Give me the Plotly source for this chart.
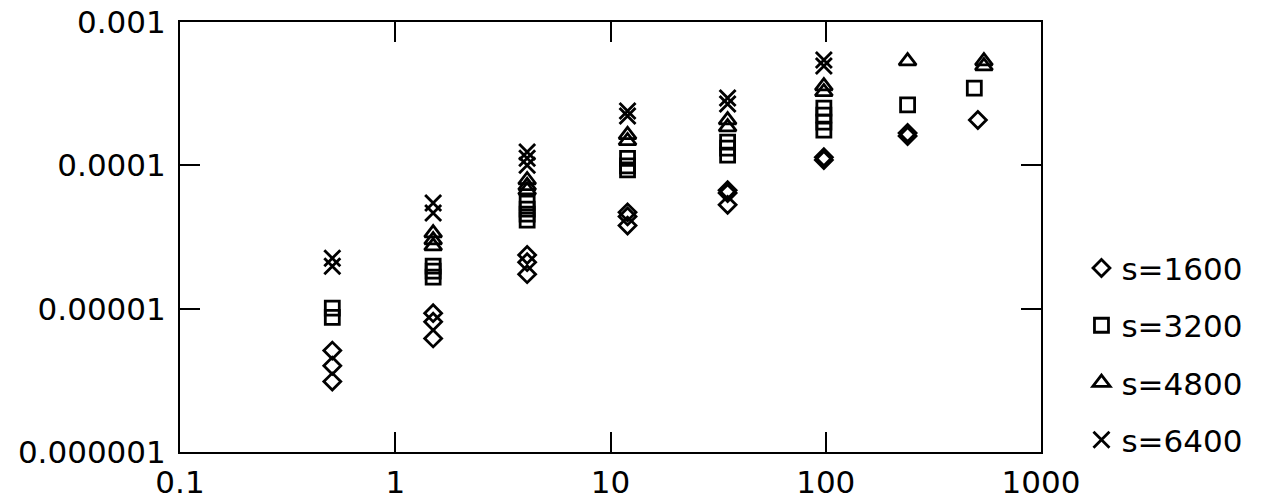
import plotly.graph_objects as go

# ---- data ----
x_1600 = [0.51, 0.51, 0.51, 1.5, 1.5, 1.5, 4.1, 4.1, 4.1, 12, 12, 12, 35, 35, 35, 98, 98, 240, 240, 509]
y_1600 = [5.1e-6, 4.0e-6, 3.1e-6, 9.3e-6, 8.1e-6, 6.2e-6, 2.37e-5, 2.11e-5, 1.74e-5,
          4.7e-5, 4.4e-5, 3.8e-5, 6.7e-5, 6.4e-5, 5.3e-5, 1.14e-4, 1.09e-4, 1.68e-4, 1.60e-4, 2.07e-4]

x_3200 = [0.51, 0.51, 1.5, 1.5, 1.5, 4.1, 4.1, 4.1, 4.1, 12, 12, 12, 35, 35, 35, 98, 98, 98, 98, 240, 490]
y_3200 = [1.01e-5, 8.7e-6, 1.98e-5, 1.83e-5, 1.66e-5, 5.46e-5, 4.95e-5, 4.57e-5, 4.15e-5,
          1.12e-4, 9.9e-5, 9.3e-5, 1.45e-4, 1.32e-4, 1.18e-4, 2.51e-4, 2.24e-4, 2.0e-4, 1.76e-4, 2.64e-4, 3.46e-4]

x_4800 = [1.5, 1.5, 1.5, 4.1, 4.1, 4.1, 12, 12, 35, 35, 98, 98, 240, 543, 543]
y_4800 = [3.37e-5, 3.01e-5, 2.73e-5, 7.9e-5, 7.2e-5, 6.7e-5, 1.63e-4, 1.48e-4,
          2.07e-4, 1.85e-4, 3.57e-4, 3.25e-4, 5.34e-4, 5.34e-4, 4.93e-4]

x_6400 = [0.51, 0.51, 1.5, 1.5, 4.1, 4.1, 4.1, 12, 12, 35, 35, 98, 98]
y_6400 = [2.25e-5, 1.98e-5, 5.46e-5, 4.65e-5, 1.24e-4, 1.12e-4, 1.0e-4,
          2.39e-4, 2.21e-4, 2.95e-4, 2.68e-4, 5.43e-4, 4.93e-4]

x_tickvals = [0.1, 1, 10, 100, 1000]
x_ticktext = ["0.1", "1", "10", "100", "1000"]
y_tickvals = [1e-6, 1e-5, 1e-4, 1e-3]
y_ticktext = ["0.000001", "0.00001", "0.0001", "0.001"]

series = [
    ("s=1600", x_1600, y_1600, "diamond-open", 13),
    ("s=3200", x_3200, y_3200, "square-open", 14),
    ("s=4800", x_4800, y_4800, "triangle-up-open", 15),
    ("s=6400", x_6400, y_6400, "x-thin-open", 16),
]

FONT = "DejaVu Sans"
FS = 31

fig = go.Figure()
for i, (name, xs, ys, sym, sz) in enumerate(series):
    fig.add_trace(go.Scatter(
        x=xs, y=ys, mode="markers", name=name, legendgroup=name,
        marker=dict(symbol=sym, size=sz, color="black",
                    line=dict(color="black", width=2.8)),
    ))

fig.update_layout(
    width=1264, height=501,
    margin=dict(l=180, r=223, t=22, b=49, autoexpand=False),
    paper_bgcolor="white", plot_bgcolor="white",
    font=dict(family=FONT, size=FS, color="black"),
    showlegend=True,
    legend=dict(x=1.047, y=0.49, xanchor="left", yanchor="top",
                font=dict(family=FONT, size=FS, color="black"),
                tracegroupgap=14, itemwidth=30, bgcolor="rgba(0,0,0,0)"),
)

fig.update_xaxes(
    type="log", range=[-1, 3],
    tickvals=x_tickvals, ticktext=x_ticktext,
    ticks="inside", ticklen=20, tickwidth=2, tickcolor="black",
    showline=True, linewidth=2, linecolor="black", mirror="ticks",
    showgrid=False, zeroline=False, ticklabelstandoff=2, automargin=False,
)
fig.update_yaxes(
    type="log", range=[-6, -3],
    tickvals=y_tickvals, ticktext=y_ticktext,
    ticks="inside", ticklen=20, tickwidth=2, tickcolor="black",
    showline=True, linewidth=2, linecolor="black", mirror="ticks",
    showgrid=False, zeroline=False, ticklabelstandoff=6, automargin=False,
)

fig.write_html(
    "out.html",
    config={"displayModeBar": False},
    post_script="document.body.style.margin='0';document.body.style.overflow='hidden';",
)
